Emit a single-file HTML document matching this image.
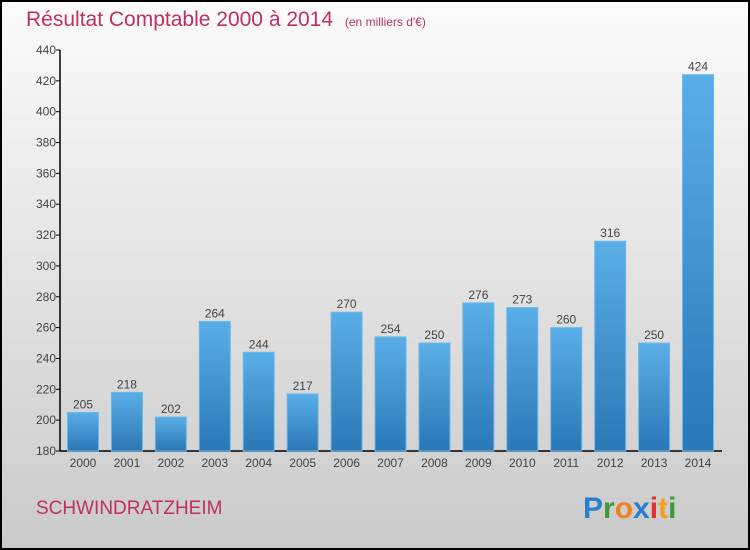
<!DOCTYPE html>
<html><head><meta charset="utf-8"><style>
html,body{margin:0;padding:0;width:750px;height:550px;overflow:hidden;font-family:"Liberation Sans",sans-serif}
</style></head><body>
<svg id="chart" width="750" height="550" xmlns="http://www.w3.org/2000/svg">
<defs>
<linearGradient id="bg" x1="0" y1="0" x2="0" y2="1"><stop offset="0" stop-color="#fbfbfb"/><stop offset="1" stop-color="#cacaca"/></linearGradient>
<linearGradient id="bar" x1="0" y1="0" x2="0" y2="1"><stop offset="0" stop-color="#5aaee6"/><stop offset="1" stop-color="#2a78b6"/></linearGradient>
</defs>
<rect x="1" y="1" width="748" height="548" fill="url(#bg)" stroke="#000" stroke-width="2"/>
<text x="26" y="26" font-size="21" fill="#c0305f">Résultat Comptable 2000 à 2014 <tspan font-size="12" dx="6">(en milliers d'€)</tspan></text>
<g id="axes"></g>
<g id="bars"></g>
<text x="36" y="514" font-size="19" fill="#c0305f">SCHWINDRATZHEIM</text>
<g font-size="30" font-weight="bold" font-family="'Liberation Sans',sans-serif">
<text x="583" y="518"><tspan fill="#2c7fd0">P</tspan><tspan fill="#3a9a3a">r</tspan><tspan fill="#f08020">o</tspan><tspan fill="#2c7fd0">x</tspan><tspan fill="#e03030">i</tspan><tspan fill="#f0a020">t</tspan><tspan fill="#3a9a3a">i</tspan></text>
</g>
</svg>
<script>
const years=["2000","2001","2002","2003","2004","2005","2006","2007","2008","2009","2010","2011","2012","2013","2014"];
const values=[205,218,202,264,244,217,270,254,250,276,273,260,316,250,424];
const ticks=[180,200,220,240,260,280,300,320,340,360,380,400,420,440];
const NS="http://www.w3.org/2000/svg";
const y0=451,y1=50,vmin=180,vmax=440,x0=60,x1=722,c0=83,step=43.93,bw=31;
const Y=v=>y0-(v-vmin)/(vmax-vmin)*(y0-y1);
const X=i=>c0+i*step;
function mk(t,a,p){const e=document.createElementNS(NS,t);for(const k in a)e.setAttribute(k,a[k]);p.appendChild(e);return e;}
const ax=document.getElementById('axes'),bg=document.getElementById('bars');
const yl=mk('line',{x1:x0,y1:y1,x2:x0,y2:y0,stroke:'#000','stroke-width':1.5},ax);


const xl=mk('line',{x1:x0,y1:y0,x2:x1,y2:y0,stroke:'#000','stroke-width':1.5},ax);


ticks.forEach(v=>{
 mk('line',{x1:x0-4,y1:Y(v),x2:x0,y2:Y(v),stroke:'#000'},ax);
 const t=mk('text',{x:x0-4,y:Y(v)+4,'font-size':12,'text-anchor':'end',fill:'#444'},ax);
 t.textContent=v;
 
 
});
values.forEach((v,i)=>{
 const r=mk('rect',{x:X(i)-bw/2,y:Y(v),width:bw,height:y0-Y(v),fill:'url(#bar)',stroke:'#6bb8ec','stroke-width':1},bg);
 
 
 const t=mk('text',{x:X(i),y:Y(v)-4,'font-size':12,'text-anchor':'middle',fill:'#444'},bg);
 t.textContent=v;
 
 
 const xt=mk('text',{x:X(i),y:y0+16,'font-size':12,'text-anchor':'middle',fill:'#444'},ax);
 xt.textContent=years[i];
 
 
});
</script>
</body></html>
